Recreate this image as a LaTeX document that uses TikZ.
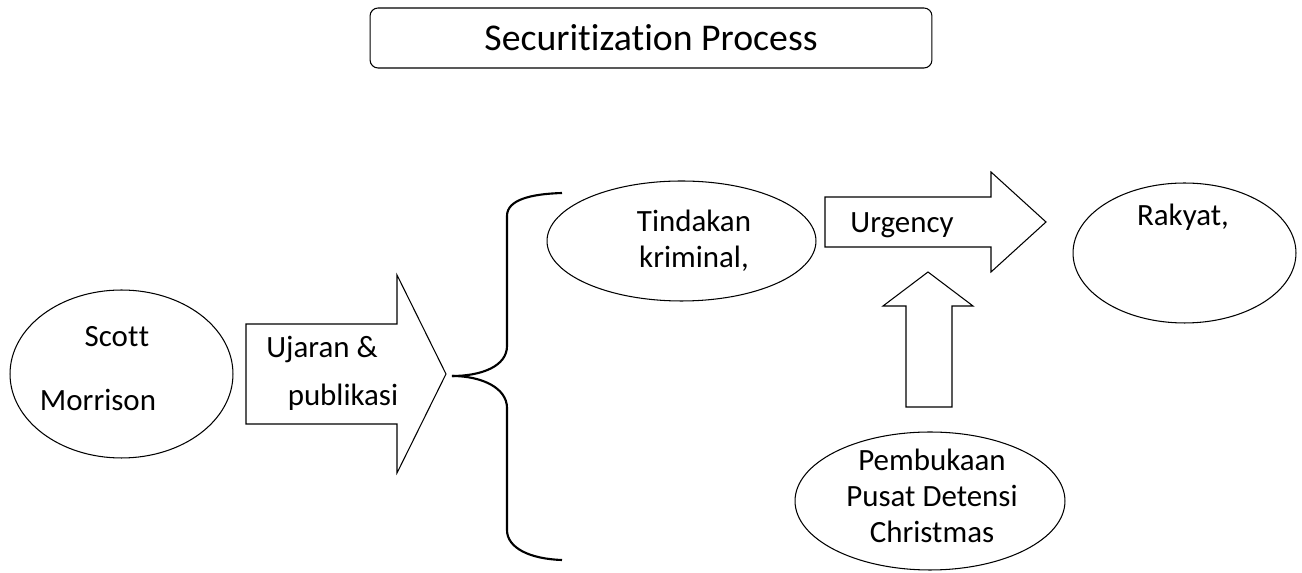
\documentclass[tikz,border=0pt]{standalone}
\usepackage{fontspec}
\setmainfont{Carlito}[Ligatures={NoCommon}]
\usetikzlibrary{shapes.geometric}
\begin{document}
\begin{tikzpicture}[x=0.02cm,y=-0.02cm]
% Styles
\tikzset{bubble/.style={draw,ellipse,line width=0.6pt,inner sep=0pt}}
\tikzset{blockarrow/.style={draw,line width=0.6pt,line join=miter}}
\tikzset{label/.style={inner sep=0pt,align=center,font=\fontsize{17.6}{20.4}\selectfont}}
\useasboundingbox (0,0) rectangle (1302,573);

% Title
\node[draw,rounded corners=0.16cm,line width=0.6pt,minimum width=11.24cm,minimum height=1.2cm,
      font=\fontsize{21.5}{25}\selectfont] (title) at (651,38) {Securitization Process};

% the ellipses
\node[bubble,minimum width=4.46cm,minimum height=3.36cm] (scott) at (121.5,374) {};
\node[bubble,minimum width=5.38cm,minimum height=2.4cm] (tindakan) at (681.5,241) {};
\node[bubble,minimum width=4.46cm,minimum height=2.8cm] (rakyat) at (1184.5,253) {};
\node[bubble,minimum width=5.4cm,minimum height=2.76cm] (pusat) at (930,501) {};

% the texts
\node[label] (scotttxt) at (117,337) {Scot\kern0.3pt t};
\node[label] (morrisontxt) at (98,400) {Morrison};
\node[label] (tindakantxt) at (694,241) {Tindakan\\kriminal,};
\node[label] (rakyattxt) at (1183,217) {Rakyat,};
\node[label] (pusattxt) at (932,496) {Pembukaan\\Pusat Detensi\\Christmas};

% the block arrows
\draw[blockarrow] (246,324) -- (397,324) -- (397,275) -- (446,374) -- (397,473) -- (397,424) -- (246,424) -- cycle;
\node[label] (ujaran) at (322,350) {Ujaran \&};
\node[label] (publikasi) at (343,397) {publikasi};
\draw[blockarrow] (825,197) -- (991,197) -- (991,172) -- (1046,222) -- (991,272) -- (991,247) -- (825,247) -- cycle;
\node[label] (urgency) at (902,225) {Urgency};
\draw[blockarrow] (906,407) -- (906,306) -- (883,306) -- (928,272) -- (973,306) -- (952,306) -- (952,407) -- cycle;

% the brace
\coordinate (bracetip) at (452,376);
\coordinate (bracetop) at (562,193);
\coordinate (bracebot) at (562,560);
\draw[line width=1.2pt] (bracetop) .. controls (530,194) and (507,200) .. (507,216) -- (507,346)
   .. controls (507,366) and (482,376) .. (bracetip);
\draw[line width=1.2pt] (bracetip) .. controls (482,376) and (507,388) .. (507,408) -- (507,530)
   .. controls (507,548) and (530,559) .. (bracebot);
\end{tikzpicture}
\end{document}
